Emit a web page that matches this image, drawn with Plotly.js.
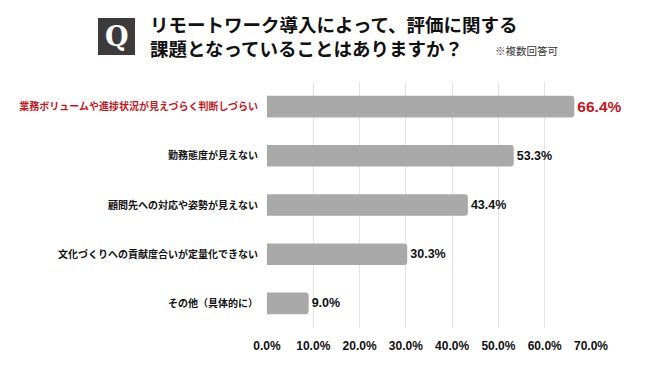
<!DOCTYPE html>
<html><head><meta charset="utf-8">
<script src="https://cdn.plot.ly/plotly-3.0.1.min.js"></script>
<style>html,body{margin:0;padding:0;background:#fff}</style>
</head><body>
<div id="chart" style="width:650px;height:365px"></div>
<script>
const categories = [
  "業務ボリュームや進捗状況が見えづらく判断しづらい",
  "勤務態度が見えない",
  "顧問先への対応や姿勢が見えない",
  "文化づくりへの貢献度合いが定量化できない",
  "その他（具体的に）"
];
const values = [66.4, 53.3, 43.4, 30.3, 9.0];
const valueLabels = ["66.4%", "53.3%", "43.4%", "30.3%", "9.0%"];
const tickVals = [0, 10, 20, 30, 40, 50, 60, 70];
const tickLabels = ["0.0%", "10.0%", "20.0%", "30.0%", "40.0%", "50.0%", "60.0%", "70.0%"];
const highlightIndex = 0;
const titleLine1 = "リモートワーク導入によって、評価に関する";
const titleLine2 = "課題となっていることはありますか？";
const note = "※複数回答可";

const RED = "#c5161d";
const catTicks = categories.map((c, i) => i === highlightIndex ? '<span style="color:' + RED + '">' + c + '</span>' : c);

const trace = {
  type: "bar",
  orientation: "h",
  y: categories,
  x: values,
  text: valueLabels,
  textposition: "outside",
  cliponaxis: false,
  textfont: {
    family: "Liberation Sans, Noto Sans CJK JP, sans-serif",
    size: values.map((v, i) => i === highlightIndex ? 15.5 : 12.5),
    color: values.map((v, i) => i === highlightIndex ? RED : "#111"),
    weight: "bold"
  },
  marker: { color: "#aaa9aa", cornerradius: 3 },
  hoverinfo: "none"
};

const layout = {
  width: 650, height: 365,
  margin: { l: 267, r: 59, t: 82, b: 37 },
  paper_bgcolor: "#fff", plot_bgcolor: "#fff",
  bargap: 0.56,
  showlegend: false,
  font: { family: "Noto Sans CJK JP, sans-serif", color: "#111" },
  xaxis: {
    range: [0, 70],
    tickvals: tickVals, ticktext: tickLabels,
    showgrid: true, gridcolor: "#e4e4e4", gridwidth: 1,
    zeroline: false, showline: false,
    ticks: "", ticklen: 0, ticklabelstandoff: 9,
    tickfont: { family: "Liberation Sans, Noto Sans CJK JP, sans-serif", size: 12, color: "#111", weight: "bold" },
    fixedrange: true
  },
  yaxis: {
    autorange: "reversed",
    tickvals: categories, ticktext: catTicks,
    showgrid: false, zeroline: false, showline: false,
    ticks: "", ticklabelstandoff: 8,
    tickfont: { family: "Noto Sans CJK JP, sans-serif", size: 10, color: "#111", weight: "bold" },
    fixedrange: true
  },
  shapes: [
    { type: "rect", xref: "paper", yref: "paper",
      x0: -0.5216, x1: -0.4074, y0: 1.1098, y1: 1.260,
      fillcolor: "#3d3a3b", line: { width: 0 } }
  ],
  annotations: [
    { xref: "paper", yref: "paper", x: -0.4645, y: 1.185, xanchor: "center", yanchor: "middle",
      text: "Q", showarrow: false,
      font: { family: "DejaVu Serif, Liberation Serif, serif", size: 27, color: "#fff", weight: "bold" } },
    { xref: "paper", yref: "paper", x: -0.3673, y: 1.185, xanchor: "left", yanchor: "middle", align: "left",
      text: titleLine1 + "<br>" + titleLine2, showarrow: false,
      font: { family: "Noto Sans CJK JP, sans-serif", size: 18.5, color: "#111", weight: "bold" } },
    { xref: "paper", yref: "paper", x: 0.6975, y: 1.130, xanchor: "left", yanchor: "middle",
      text: note, showarrow: false,
      font: { family: "Noto Sans CJK JP, sans-serif", size: 10.5, color: "#333" } }
  ]
};

Plotly.newPlot("chart", [trace], layout, { staticPlot: true, displayModeBar: false });
</script>
</body></html>
